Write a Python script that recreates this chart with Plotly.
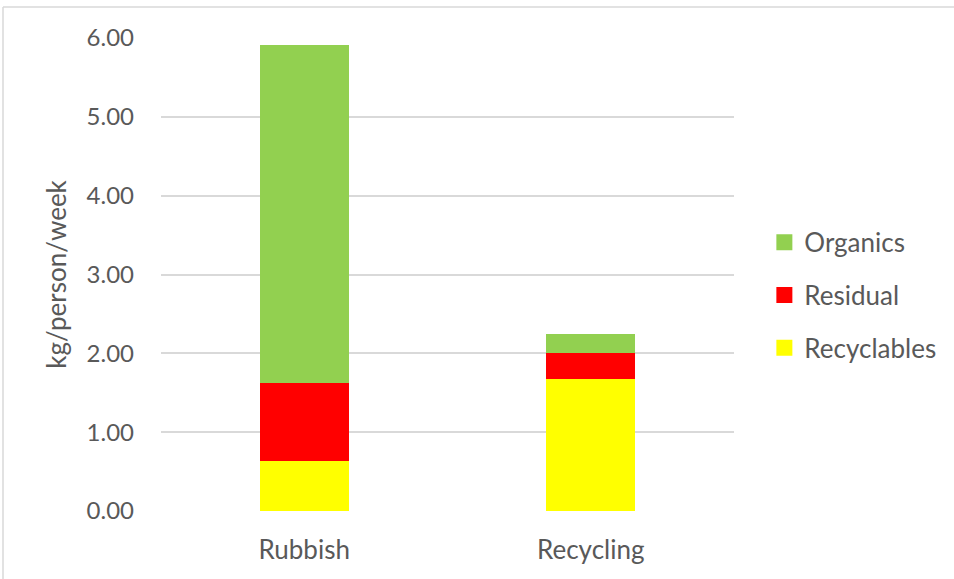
import plotly.graph_objects as go

categories = ["Rubbish", "Recycling"]
recyclables = [0.63, 1.68]
residual = [0.99, 0.32]
organics = [4.29, 0.25]
series_names = ["Recyclables", "Residual", "Organics"]
series_colors = ["#FFFF00", "#FF0000", "#92D050"]
y_ticks = [0, 1, 2, 3, 4, 5, 6]
y_tick_labels = ["0.00", "1.00", "2.00", "3.00", "4.00", "5.00", "6.00"]

FONT = "Lato"
TXT = "#595959"

fig = go.Figure()
for name, vals, col in zip(series_names, [recyclables, residual, organics], series_colors):
    fig.add_trace(go.Bar(x=categories, y=vals, name=name, marker=dict(color=col, line=dict(width=0)),
                         showlegend=False))
# legend entries, top to bottom: Organics, Residual, Recyclables
for name, col in list(zip(series_names, series_colors))[::-1]:
    fig.add_trace(go.Scatter(x=[None], y=[None], mode="markers", name=name,
                             marker=dict(symbol="square", size=17, color=col),
                             legendgroup=name, showlegend=True))

L, R, T, B = 161, 220, 38, 68
W, H = 954, 579
pw = W - L - R
ph = H - T - B
bx = (3 - L) / pw
by = (H - B - 7) / ph

fig.update_layout(
    width=W, height=H, barmode="stack", bargap=0.69,
    margin=dict(l=L, r=R, t=T, b=B),
    paper_bgcolor="white", plot_bgcolor="white",
    font=dict(family=FONT, size=24, color=TXT),
    legend=dict(x=1.053, y=0.456, xanchor="left", yanchor="middle",
                traceorder="grouped", tracegroupgap=16,
                font=dict(size=26, color=TXT), itemwidth=30),
    xaxis=dict(showgrid=False, showline=False, zeroline=False, ticks="",
               ticklabelstandoff=21, tickfont=dict(size=26, color=TXT)),
    yaxis=dict(range=[0, 6], tickvals=y_ticks, ticktext=y_tick_labels,
               showgrid=True, gridcolor="#D9D9D9", gridwidth=1.5, zeroline=False,
               showline=False, ticks="", ticklabelstandoff=26,
               tickfont=dict(size=24, color=TXT),
               title=dict(text="kg/person/week", font=dict(size=26, color=TXT), standoff=12)),
    shapes=[
        dict(type="line", xref="paper", yref="paper", x0=bx, x1=bx, y0=by, y1=-0.5,
             line=dict(color="#D9D9D9", width=1.5)),
        dict(type="line", xref="paper", yref="paper", x0=bx, x1=1.6, y0=by, y1=by,
             line=dict(color="#D9D9D9", width=1.5)),
    ],
)
fig.write_html("out.html")
